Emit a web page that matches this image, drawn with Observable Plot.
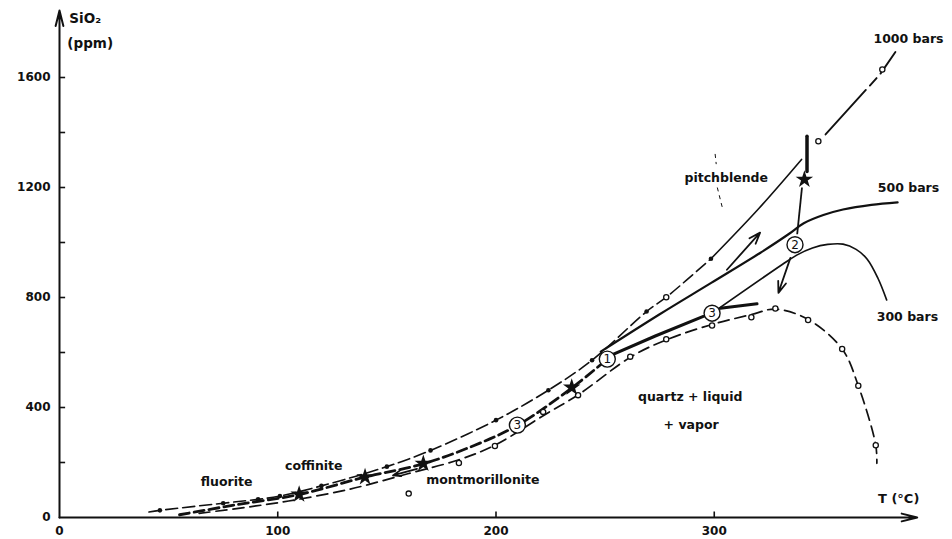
<!DOCTYPE html>
<html><head><meta charset="utf-8">
<script src="https://cdn.jsdelivr.net/npm/d3@7"></script>
<script src="https://cdn.jsdelivr.net/npm/@observablehq/plot@0.6"></script>
<style>
html,body{margin:0;padding:0;background:#fff;}
#chart{width:952px;height:539px;overflow:hidden;}
</style></head><body><div id="chart"></div>
<script>
// ---------- axes ----------
const xTicks = [100, 200, 300];
const xTickLabels = [0, 100, 200, 300];
const yTicks = [200, 400, 600, 800, 1000, 1200, 1400, 1600];
const yTickLabels = [0, 400, 800, 1200, 1600];
const xAxisEnd = 393;
const yAxisEnd = 1844;

// ---------- 1000 bars curve ----------
const t1000 = [41, 46, 75, 91, 101, 120, 150, 170, 200, 224, 244, 269, 278, 298.5];
const c1000 = [20, 26, 52, 66, 78, 115, 185, 244, 354, 463, 572, 749, 801, 941];
const t1000mid = [298.5, 320, 340];
const c1000mid = [941, 1120, 1302];
const t1000top = [351, 376, 383];
const c1000top = [1393, 1612, 1693];
const t1000dots = [46, 75, 91, 101, 120, 150, 170, 200, 224, 244, 269, 298.5];
const c1000dots = [26, 52, 66, 78, 115, 185, 244, 354, 463, 572, 749, 941];
const t1000rings = [278, 347.7, 377];
const c1000rings = [801, 1368, 1629];

// ---------- 500 bars curve ----------
const t500 = [248, 275, 298.6, 321, 334, 341, 350, 359, 372, 384];
const c500 = [603, 739, 853, 962, 1030, 1070, 1100, 1120, 1137, 1146];

// ---------- 300 bars curve ----------
const t300 = [299, 331, 338, 345, 352, 359, 365, 370, 375, 379];
const c300 = [743, 919, 955, 980, 993, 994, 975, 940, 870, 791];

// ---------- lower curve (open circles) ----------
const tLow = [64, 90, 105, 133, 160, 183, 200, 222, 238, 262, 278, 299, 317, 328, 343, 358.6, 366, 374, 374.5];
const cLow = [15, 42, 60, 103, 160, 210, 265, 372, 448, 585, 646, 702, 738, 758, 720, 613, 479, 263, 197];
const tLowRings = [183, 199.5, 221.6, 237.6, 261.5, 278, 299, 317, 328, 343, 358.6, 366, 374, 160];
const cLowRings = [198, 260, 384, 445, 585, 648, 698, 728, 760, 718, 613, 479, 263, 87];

// ---------- deposition path (thick) ----------
const tPathA = [55, 80, 110, 140, 167, 190, 210, 235, 251];
const cPathA = [10, 45, 84, 147, 196, 262, 336, 473, 576];
const tPathB = [251, 273, 295];
const cPathB = [584, 660, 731];
const tPathC = [302.8, 319.6];
const cPathC = [761, 777];
const tPathD = [342.5, 342.5];
const cPathD = [1386, 1258];

// stars (mineral deposition)
const starT = [109.8, 140, 166.7, 234.7, 341.3];
const starC = [84, 147, 196, 473, 1229];

// arrows
const arrowT1 = [163.8, 305.8, 334.9];
const arrowC1 = [177, 901, 944];
const arrowT2 = [152.8, 321, 329.4];
const arrowC2 = [153, 1036, 817];
// plain connector star -> (2)
const linkT1 = [340.2];
const linkC1 = [1200];
const linkT2 = [338];
const linkC2 = [1030];

// leader of "pitchblende"
const leadT1 = [300.4, 301.4];
const leadC1 = [1322, 1200];
const leadT2 = [300.9, 303.7];
const leadC2 = [1285, 1127];

// circled numbers
const numT = [251, 337, 299, 209.8];
const numC = [576, 992, 743, 336];
const numLabel = ["1", "2", "3", "3"];

// text labels
const labelText = ["fluorite", "coffinite", "montmorillonite", "quartz + liquid", "+ vapor", "pitchblende", "1000 bars", "500 bars", "300 bars"];
const labelT = [76.6, 116.5, 194, 289, 289.4, 305.5, 389, 389, 388.5];
const labelC = [128, 186, 135, 438, 336, 1236, 1740, 1200, 729];

// axis titles
const yTitle = ["SiO₂", "(ppm)"];
const yTitleT = [4.5, 3.6];
const yTitleC = [1815, 1724];
const xTitle = ["T (°C)"];
const xTitleT = [384.5];
const xTitleC = [69];

// ---------- build ----------
const pts = (t, c) => t.map((d, i) => ({t: d, c: c[i]}));
const ink = "#111";

const chart = Plot.plot({
  width: 952, height: 539,
  marginLeft: 59, marginRight: 20, marginTop: 0, marginBottom: 22,
  x: {domain: [0, 400], axis: null},
  y: {domain: [0, 1880], axis: null},
  style: {fontFamily: "'DejaVu Sans', sans-serif", fontSize: "13px", background: "#fff", color: ink},
  marks: [
    Plot.axisX({ticks: xTickLabels, tickSize: 0, tickPadding: 9, tickFormat: d => String(d), label: null, fontWeight: "bold", fontSize: 12}),
    Plot.axisY({ticks: yTickLabels, tickSize: 0, tickPadding: 9, tickFormat: d => String(d), label: null, fontWeight: "bold", fontSize: 12}),
    // inward tick marks
    Plot.ruleY(yTicks, {x1: 0, x2: 2.8, stroke: ink, strokeWidth: 1.6}),
    Plot.ruleX(xTicks, {y1: 0, y2: 20, stroke: ink, strokeWidth: 1.6}),
    Plot.arrow([{x1: 0, y1: 0, x2: xAxisEnd, y2: 0}, {x1: 0, y1: 0, x2: 0, y2: yAxisEnd}],
      {x1: "x1", y1: "y1", x2: "x2", y2: "y2", stroke: ink, strokeWidth: 2, headLength: 12, headAngle: 28}),

    // 1000 bars
    Plot.line(pts(t1000, c1000), {x: "t", y: "c", curve: "catmull-rom", stroke: ink, strokeWidth: 1.6, strokeDasharray: "12,5"}),
    Plot.line(pts(t1000mid, c1000mid), {x: "t", y: "c", curve: "catmull-rom", stroke: ink, strokeWidth: 1.6}),
    Plot.line(pts(t1000top, c1000top), {x: "t", y: "c", stroke: ink, strokeWidth: 1.9, strokeDasharray: "60,6,10,6"}),
    Plot.dot(pts(t1000dots, c1000dots), {x: "t", y: "c", r: 2.3, fill: ink, stroke: "none"}),

    // 500 bars
    Plot.line(pts(t500, c500), {x: "t", y: "c", curve: "catmull-rom", stroke: ink, strokeWidth: 2.2}),
    // 300 bars
    Plot.line(pts(t300, c300), {x: "t", y: "c", curve: "catmull-rom", stroke: ink, strokeWidth: 1.7}),
    // lower curve
    Plot.line(pts(tLow, cLow), {x: "t", y: "c", curve: "catmull-rom", stroke: ink, strokeWidth: 1.7, strokeDasharray: "11,6"}),

    // deposition path
    Plot.line(pts(tPathA, cPathA), {x: "t", y: "c", curve: "catmull-rom", stroke: ink, strokeWidth: 2.8, strokeDasharray: "10,5"}),
    Plot.line(pts(tPathB, cPathB), {x: "t", y: "c", stroke: ink, strokeWidth: 3}),
    Plot.line(pts(tPathC, cPathC), {x: "t", y: "c", stroke: ink, strokeWidth: 3}),
    Plot.line(pts(tPathD, cPathD), {x: "t", y: "c", stroke: ink, strokeWidth: 3.5}),

    Plot.arrow(arrowT1.map((d, i) => ({x1: d, y1: arrowC1[i], x2: arrowT2[i], y2: arrowC2[i]})),
      {x1: "x1", y1: "y1", x2: "x2", y2: "y2", stroke: ink, strokeWidth: 1.8, headLength: 10, headAngle: 40}),
    Plot.link(linkT1.map((d, i) => ({x1: d, y1: linkC1[i], x2: linkT2[i], y2: linkC2[i]})),
      {x1: "x1", y1: "y1", x2: "x2", y2: "y2", stroke: ink, strokeWidth: 1.8}),
    Plot.link(leadT1.map((d, i) => ({x1: d, y1: leadC1[i], x2: leadT2[i], y2: leadC2[i]})),
      {x1: "x1", y1: "y1", x2: "x2", y2: "y2", stroke: ink, strokeWidth: 1, strokeDasharray: "4,4"}),

    // open circles
    Plot.dot(pts(t1000rings, c1000rings), {x: "t", y: "c", r: 2.6, fill: "#fff", stroke: ink, strokeWidth: 1.3}),
    Plot.dot(pts(tLowRings, cLowRings), {x: "t", y: "c", r: 2.6, fill: "#fff", stroke: ink, strokeWidth: 1.3}),

    // stars
    Plot.dot(pts(starT, starC), {x: "t", y: "c", symbol: "star", r: 5.5, fill: ink, stroke: "none"}),

    // circled numbers
    Plot.dot(pts(numT, numC), {x: "t", y: "c", r: 8, fill: "#fff", stroke: ink, strokeWidth: 1.4}),
    Plot.text(numT.map((d, i) => ({t: d, c: numC[i], s: numLabel[i]})), {x: "t", y: "c", text: "s", fontSize: 12, fill: ink}),

    // labels
    Plot.text(labelText.map((s, i) => ({t: labelT[i], c: labelC[i], s})), {x: "t", y: "c", text: "s", fontSize: 12.5, fontWeight: "bold", fill: ink}),
    Plot.text(yTitle.map((s, i) => ({t: yTitleT[i], c: yTitleC[i], s})), {x: "t", y: "c", text: "s", fontSize: 13.5, fontWeight: "bold", textAnchor: "start", fill: ink}),
    Plot.text(xTitle.map((s, i) => ({t: xTitleT[i], c: xTitleC[i], s})), {x: "t", y: "c", text: "s", fontSize: 13, fontWeight: "bold", fill: ink})
  ]
});
document.getElementById("chart").append(chart);
</script>
</body></html>
